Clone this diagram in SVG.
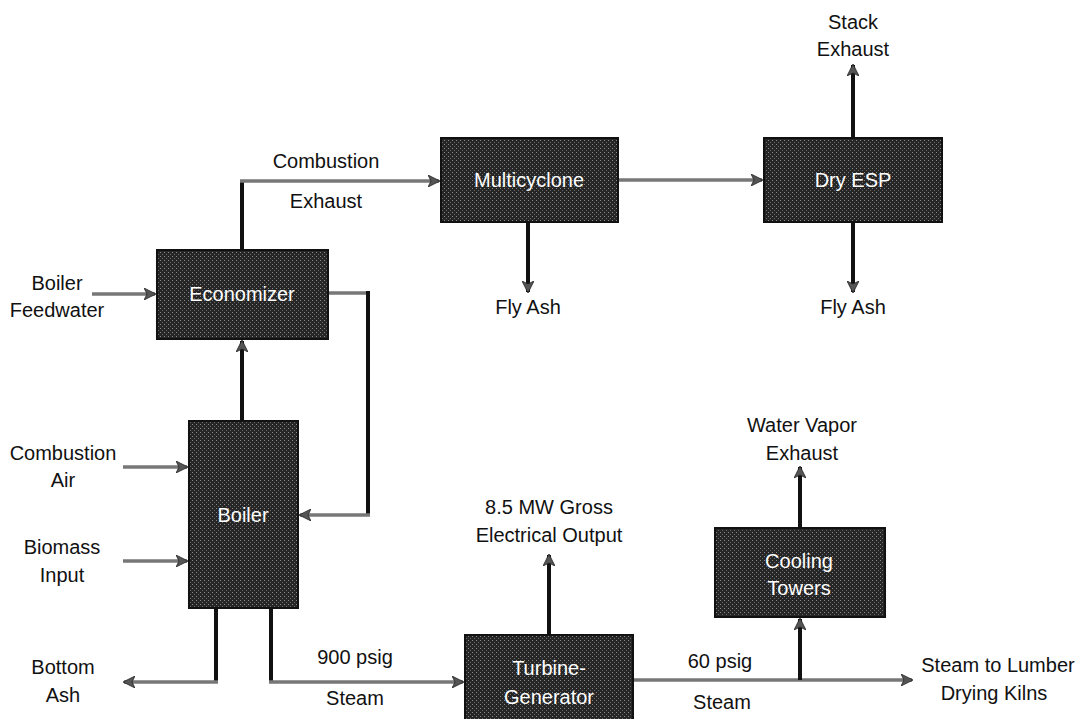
<svg xmlns="http://www.w3.org/2000/svg" width="1076" height="719" viewBox="0 0 1076 719">
<defs>
<pattern id="tex" width="4" height="4" patternUnits="userSpaceOnUse">
<rect width="4" height="4" fill="#262626"/>
<rect x="0" y="0" width="1" height="1" fill="#8a8a8a"/>
<rect x="2" y="2" width="1" height="1" fill="#6a6a6a"/>
</pattern>
<marker id="ah" viewBox="0 0 12 12" refX="11" refY="6" markerWidth="12" markerHeight="12" markerUnits="userSpaceOnUse" orient="auto">
<path d="M0,0 L12,6 L0,12 L3,6 Z" fill="#555" stroke="#222" stroke-width="0.8"/>
</marker>
</defs>
<style>
.box{fill:url(#tex);stroke:#111;stroke-width:2}
.bt{font-family:"Liberation Sans",Arial,sans-serif;font-size:20px;fill:#fff;text-anchor:middle}
.lt{font-family:"Liberation Sans",Arial,sans-serif;font-size:20px;fill:#111;text-anchor:middle}
.v{fill:none;stroke:#111;stroke-width:4}
.h{fill:none;stroke:#777;stroke-width:3.5}
</style>
<rect width="1076" height="719" fill="#fff"/>
<g id="connectors">
<path class="v" d="M242,250 V181"/>
<path class="h" d="M240,181 H439" marker-end="url(#ah)"/>
<path class="h" d="M618,180 H762" marker-end="url(#ah)"/>
<path class="v" d="M853,138 V65" marker-end="url(#ah)"/>
<path class="v" d="M853,222 V292" marker-end="url(#ah)"/>
<path class="v" d="M528,222 V292" marker-end="url(#ah)"/>
<path class="h" d="M92,294 H155" marker-end="url(#ah)"/>
<path class="h" d="M328,293 H368"/>
<path class="v" d="M368,291 V515"/>
<path class="h" d="M370,515 H300" marker-end="url(#ah)"/>
<path class="v" d="M242,421 V341" marker-end="url(#ah)"/>
<path class="h" d="M123,467 H187" marker-end="url(#ah)"/>
<path class="h" d="M123,561 H187" marker-end="url(#ah)"/>
<path class="v" d="M216,608 V682"/>
<path class="h" d="M218,682 H124" marker-end="url(#ah)"/>
<path class="v" d="M271,608 V682"/>
<path class="h" d="M269,682 H463" marker-end="url(#ah)"/>
<path class="v" d="M549,635 V555" marker-end="url(#ah)"/>
<path class="h" d="M633,680 H912" marker-end="url(#ah)"/>
<path class="v" d="M800,680 V619" marker-end="url(#ah)"/>
<path class="v" d="M800,528 V467" marker-end="url(#ah)"/>
</g>
<g id="economizer">
<rect class="box" x="157" y="250" width="171" height="89"/>
<text class="bt" x="242" y="301">Economizer</text>
</g>
<g id="boiler">
<rect class="box" x="189" y="421" width="109" height="187"/>
<text class="bt" x="243" y="522">Boiler</text>
</g>
<g id="multicyclone">
<rect class="box" x="441" y="138" width="177" height="84"/>
<text class="bt" x="529" y="187">Multicyclone</text>
</g>
<g id="dryesp">
<rect class="box" x="764" y="138" width="178" height="84"/>
<text class="bt" x="853" y="187">Dry ESP</text>
</g>
<g id="turbine">
<rect class="box" x="465" y="635" width="168" height="88"/>
<text class="bt" x="549" y="675">Turbine-</text>
<text class="bt" x="549" y="704">Generator</text>
</g>
<g id="cooling">
<rect class="box" x="715" y="528" width="170" height="89"/>
<text class="bt" x="799" y="568">Cooling</text>
<text class="bt" x="799" y="595">Towers</text>
</g>
<g id="labels">
<text class="lt" x="853" y="29">Stack</text>
<text class="lt" x="853" y="56">Exhaust</text>
<text class="lt" x="326" y="168">Combustion</text>
<text class="lt" x="326" y="208">Exhaust</text>
<text class="lt" x="528" y="314">Fly Ash</text>
<text class="lt" x="853" y="314">Fly Ash</text>
<text class="lt" x="57" y="290">Boiler</text>
<text class="lt" x="57" y="317">Feedwater</text>
<text class="lt" x="63" y="460">Combustion</text>
<text class="lt" x="63" y="487">Air</text>
<text class="lt" x="62" y="554">Biomass</text>
<text class="lt" x="62" y="582">Input</text>
<text class="lt" x="63" y="674">Bottom</text>
<text class="lt" x="63" y="702">Ash</text>
<text class="lt" x="355" y="664">900 psig</text>
<text class="lt" x="355" y="705">Steam</text>
<text class="lt" x="549" y="514">8.5 MW Gross</text>
<text class="lt" x="549" y="542">Electrical Output</text>
<text class="lt" x="802" y="432">Water Vapor</text>
<text class="lt" x="802" y="460">Exhaust</text>
<text class="lt" x="720" y="668">60 psig</text>
<text class="lt" x="722" y="709">Steam</text>
<text class="lt" x="998" y="672">Steam to Lumber</text>
<text class="lt" x="994" y="700">Drying Kilns</text>
</g>
</svg>
